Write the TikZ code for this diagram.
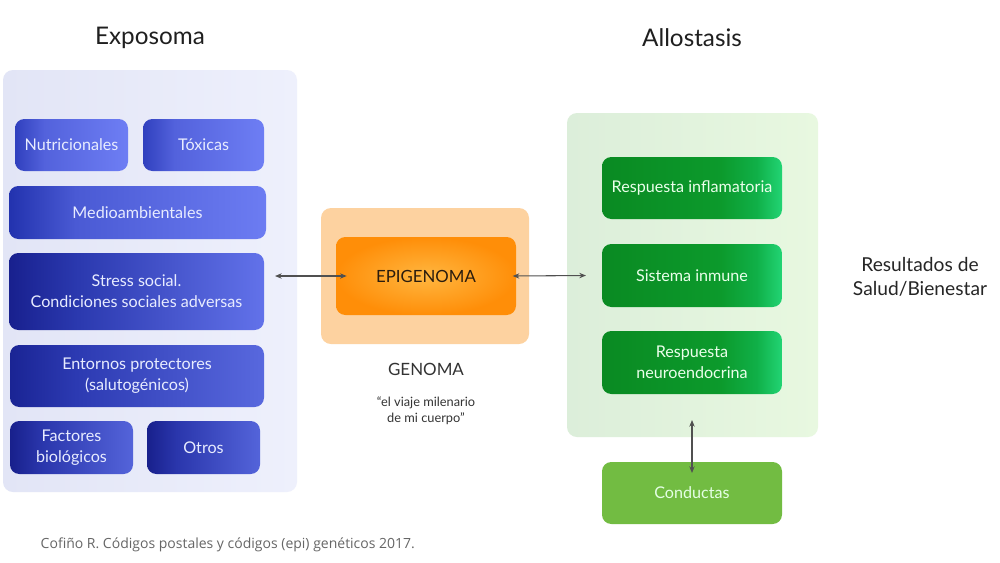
\documentclass[tikz,border=0pt]{standalone}
\usepackage{fontspec}
\setmainfont{Lato}
\newfontfamily\citefont{Open Sans}
\usetikzlibrary{arrows.meta}
\definecolor{panelL}{HTML}{E2E5F6}
\definecolor{panelR}{HTML}{EEF0FC}
\definecolor{greenPL}{HTML}{DCEEDA}
\definecolor{greenPR}{HTML}{E8F8E0}
\definecolor{orOut}{HTML}{FDD2A0}
\definecolor{orIn}{HTML}{FF8E08}
\definecolor{orMid}{HTML}{FFB640}
\definecolor{gDark}{HTML}{0A8A22}
\definecolor{gMid}{HTML}{0C9A2C}
\definecolor{gMid2}{HTML}{10B048}
\definecolor{gLight}{HTML}{22D474}
\definecolor{gCond}{HTML}{72BC42}
\definecolor{boxtxt}{HTML}{E8ECFF}
\definecolor{arr}{HTML}{505050}
\definecolor{b1L}{HTML}{3040BE}
\definecolor{b1M}{HTML}{5362DC}
\definecolor{b1R}{HTML}{6E7EF4}
\definecolor{b2L}{HTML}{2232AE}
\definecolor{b2M}{HTML}{4A5AD4}
\definecolor{b2R}{HTML}{6C7CF2}
\definecolor{b3L}{HTML}{18208E}
\definecolor{b3M}{HTML}{2A38AE}
\definecolor{b3R}{HTML}{6272EA}
\definecolor{b4L}{HTML}{1A2494}
\definecolor{b4M}{HTML}{2C3AB2}
\definecolor{b4R}{HTML}{5868DE}
\definecolor{b5L}{HTML}{18208C}
\definecolor{b5M}{HTML}{2A36AC}
\definecolor{b5R}{HTML}{5464DA}
\newcommand\mkshade[4]{\pgfdeclarehorizontalshading{#1}{100bp}{color(0bp)=(#2); color(25bp)=(#2); color(38bp)=(#3); color(75bp)=(#4); color(100bp)=(#4)}}
\mkshade{sb1}{b1L}{b1M}{b1R}
\mkshade{sb2}{b2L}{b2M}{b2R}
\mkshade{sb3}{b3L}{b3M}{b3R}
\mkshade{sb4}{b4L}{b4M}{b4R}
\mkshade{sb5}{b5L}{b5M}{b5R}
\pgfdeclarehorizontalshading{sgreen}{100bp}{color(0bp)=(gDark); color(25bp)=(gDark); color(58bp)=(gMid); color(68bp)=(gMid2); color(75bp)=(gLight); color(100bp)=(gLight)}
\tikzset{
  x=0.75pt, y=-0.75pt,
  panel/.style={rounded corners=7.5pt, inner sep=0pt, outer sep=0pt},
  bbox/.style={rounded corners=7pt, inner sep=0pt, outer sep=0pt, text=boxtxt, align=center, font=\fontsize{12.1}{15.6}\selectfont},
  gbox/.style={bbox, shading=sgreen, text=white!92!green},
  dbl/.style={{Stealth[length=5pt,width=4pt]}-{Stealth[length=5pt,width=4pt]}, draw=arr, line width=0.8pt},
  title/.style={font=\fontsize{18.2}{22}\selectfont, text=black!88},
}
\newcommand\bx[7]{\node[#6, minimum width={(#4-#2)*0.75pt}, minimum height={(#5-#3)*0.75pt}] (#1) at ({(#2+#4)/2},{(#3+#5)/2}) {#7};}
\begin{document}
\begin{tikzpicture}
\useasboundingbox[fill=white] (0,0) rectangle (1000,562);
% titles
\node[title] (texpo) at (150,38) {Exposoma};
\node[title] (tallo) at (692,38) {Allostasis};
% left panel
\bx{lpanel}{3}{70}{297}{492}{panel, left color=panelL, right color=panelR}{}
\bx{nutri}{15}{119}{128}{171}{bbox, shading=sb1}{Nutricionales}
\bx{toxic}{143}{119}{264}{171}{bbox, shading=sb1}{Tóxicas}
\bx{medio}{9}{186}{266}{239}{bbox, shading=sb2}{Medioambientales}
\bx{stress}{9}{253}{264}{330}{bbox, shading=sb3}{Stress social.\\Condiciones sociales adversas}
\bx{entor}{10}{345}{264}{407}{bbox, shading=sb4}{Entornos protectores\\(salutogénicos)}
\bx{factor}{10}{421}{133}{474}{bbox, shading=sb5}{Factores\\biológicos}
\bx{otros}{147}{421}{260}{474}{bbox, shading=sb5}{Otros}
% centre
\bx{orout}{321}{208}{529}{344}{panel, fill=orOut}{}
\bx{epi}{336}{237}{516}{315}{bbox, inner color=orMid, outer color=orIn, text=black!78!brown, font=\fontsize{12.6}{15}\selectfont}{EPIGENOMA}
\node[font=\fontsize{12.7}{15}\selectfont, text=black!80] (genoma) at (426,369) {GENOMA};
\node[font=\fontsize{9.6}{12}\selectfont, text=black!80, align=center] (quote) at (426,411) {``el viaje milenario\\de mi cuerpo''};
% right panel
\bx{rpanel}{567}{113}{818}{437}{panel, left color=greenPL, right color=greenPR}{}
\bx{infla}{602}{157}{782}{219}{gbox}{Respuesta inflamatoria}
\bx{inmune}{602}{244}{782}{307}{gbox}{Sistema inmune}
\bx{neuro}{602}{331}{782}{394}{gbox}{Respuesta\\neuroendocrina}
\bx{cond}{602}{462}{782}{524}{bbox, fill=gCond, text=white!90!green}{Conductas}
\node[font=\fontsize{14.4}{18}\selectfont, text=black!85, align=center] (result) at (920,277) {Resultados de\\Salud/Bienestar};
% connectors
\draw[dbl] ([xshift=8.25pt]stress.east |- epi.west) -- ([xshift=8pt]epi.west);
\draw[dbl] ([xshift=-2.5pt]epi.east) -- ([xshift=-12pt]inmune.west);
\draw[dbl] ([yshift=-19.5pt]neuro.south) -- ([yshift=-8.25pt]cond.north);
% citation
\node[anchor=west, font=\citefont\fontsize{10.5}{12}\selectfont, text=black!60] (cite) at (36,545) {Cofiño R. Códigos postales y códigos (epi) genéticos 2017.};
\end{tikzpicture}
\end{document}
